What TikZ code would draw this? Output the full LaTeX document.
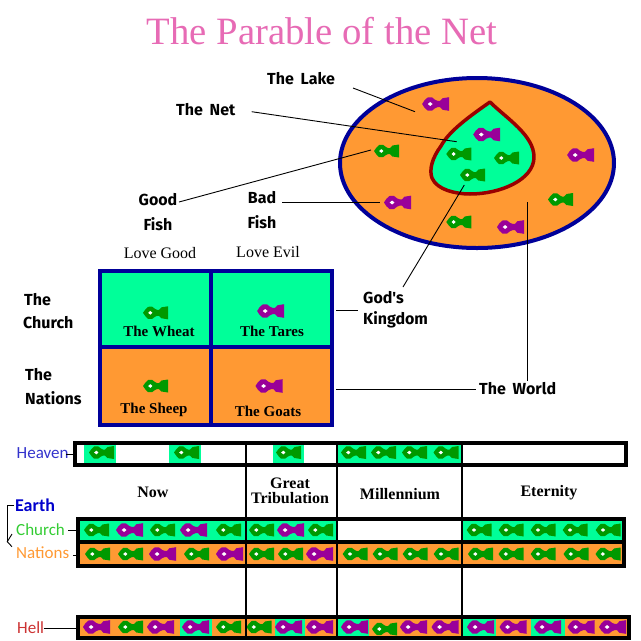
\documentclass[tikz,border=0pt]{standalone}
\usepackage{fontspec}
\setmainfont{Liberation Serif}
\newfontfamily\labfont[WordSpace=1.8]{Fira Sans}
\newfontfamily\thinfont{Carlito}
\definecolor{seagrn}{HTML}{00FF99}
\definecolor{orng}{HTML}{FF9933}
\definecolor{navy}{HTML}{000099}
\definecolor{fishg}{HTML}{009900}
\definecolor{fishp}{HTML}{990099}
\definecolor{netred}{HTML}{990000}
\definecolor{pinkt}{HTML}{E76BB5}
\definecolor{heavenc}{HTML}{3333CC}
\definecolor{earthc}{HTML}{0000CC}
\definecolor{churchc}{HTML}{33CC33}
\definecolor{hellc}{HTML}{CC3333}
\tikzset{
  lab/.style={font=\labfont\bfseries\fontsize{16}{16}\selectfont,inner sep=0pt,text=black},
  goth/.style={font=\bfseries\fontsize{15}{15}\selectfont,inner sep=0pt,text=black},
  period/.style={font=\bfseries\fontsize{16}{16}\selectfont,inner sep=0pt,text=black},
  lov/.style={font=\fontsize{16}{16}\selectfont,inner sep=0pt},
  place/.style={font=\thinfont\fontsize{17}{17}\selectfont,inner sep=0pt,anchor=west},
  conn/.style={draw=black,line width=0.9pt},
  bar/.style={draw=black,line width=4pt},
  pics/gf/.style={code={
    \fill[fishg] (-12.5,0) -- (-10,-3.5) -- (-7.5,-6) -- (-3.5,-6.2) -- (-0.5,-4) -- (1.5,-3) -- (3.5,-3) -- (6,-5.5) -- (12.5,-6.5) -- (12.5,6.5) -- (6,5.5) -- (3.5,3) -- (1.5,3) -- (-0.5,4) -- (-3.5,6.2) -- (-7.5,6) -- (-10,3.5) -- cycle;
    \fill[white] (-7.3,0) -- (-5.2,-1.9) -- (-3.1,0) -- (-5.2,1.9) -- cycle;}},
  pics/pf/.style={code={
    \fill[fishp] (-13.5,0) -- (-11,-3.8) -- (-8,-6.5) -- (-3.5,-6.6) -- (-0.5,-4.2) -- (2,-3.2) -- (4.5,-3.2) -- (7,-5.8) -- (13.5,-6.8) -- (13.5,6.8) -- (7,5.8) -- (4.5,3.2) -- (2,3.2) -- (-0.5,4.2) -- (-3.5,6.6) -- (-8,6.5) -- (-11,3.8) -- cycle;
    \fill[white] (-7.8,0) -- (-5.4,-2) -- (-3,0) -- (-5.4,2) -- cycle;}},
}
\begin{document}
\begin{tikzpicture}[x=1pt,y=-1pt]
\useasboundingbox (0,0) rectangle (641,641);
\node[inner sep=0pt,text=pinkt,font=\fontsize{38.7}{39}\selectfont] (title) at (322,31) {The Parable of the Net};
% lake
\draw[navy,line width=4pt,fill=orng] (477,163) ellipse [x radius=137,y radius=85];
\draw[netred,line width=3.5pt,fill=seagrn,line join=round] (490,102)
  .. controls (470,116) and (449,131) .. (441,146)
  .. controls (432,158) and (429,170) .. (432,178)
  .. controls (437,190) and (456,194) .. (470,194)
  .. controls (500,194) and (534,180) .. (534,157)
  .. controls (534,135) and (506,118) .. (490,102) -- cycle;
\foreach \x/\y in {435.6/104,486.7/134.5,580.6/155,397.5/202.5,510.5/227} \pic at (\x,\y) {pf};
\foreach \x/\y in {458.8/154,506.5/158,472.5/175,386.5/151,560.5/199.5,458.8/222} \pic at (\x,\y) {gf};
% grid
\fill[seagrn] (100,271) rectangle (332,347);
\fill[orng] (100,347) rectangle (332,425);
\draw[navy,line width=3.8pt] (100,271) rectangle (332,425) (211,271) -- (211,425) (100,347) -- (332,347);
\pic at (155.5,312.8) {gf};
\pic at (270.6,311) {pf};
\pic at (155.5,386) {gf};
\pic at (269,386) {pf};
\node[goth] (wheat) at (159,331) {The Wheat};
\node[goth] (tares) at (272,331) {The Tares};
\node[goth] (sheep) at (154,410) {The Sheep};
\node[goth] (goats) at (268,411) {The Goats};
% labels
\node[lab,anchor=west] (lake) at (267,79) {The Lake};
\node[lab,anchor=west] (net) at (176,110) {The Net};
\node[lab] (good1) at (158,200) {Good};
\node[lab] (good2) at (158,224) {Fish};
\node[lab] (bad1) at (262,198) {Bad};
\node[lab] (bad2) at (262,222) {Fish};
\node[lov] (lg) at (160,253) {Love Good};
\node[lov] (le) at (268,252) {Love Evil};
\node[lab,anchor=west] (chA) at (24,300) {The};
\node[lab,anchor=west] (chB) at (23,323) {Church};
\node[lab,anchor=west] (naA) at (25,375) {The};
\node[lab,anchor=west] (naB) at (25,398) {Nations};
\node[lab,anchor=west] (gkA) at (363,298) {God's};
\node[lab,anchor=west] (gkB) at (363,320) {Kingdom};
\node[lab,anchor=west] (world) at (479,389) {The World};
% connector ends
\coordinate (lakeE) at (415,111.7);
\coordinate (lakeS) at (353,88);
\coordinate (netE) at (456.7,141.7);
\coordinate (netS) at (251.7,111.7);
\coordinate (goodE) at (371,150);
\coordinate (goodS) at (179,202);
\coordinate (badE) at (380,202);
\coordinate (badS) at (282,202);
\coordinate (kingE) at (464.3,185);
\coordinate (kingS) at (403,287);
\coordinate (worldT) at (527.5,202);
\coordinate (worldB) at (527.5,381);
\coordinate (gridA) at (336,310);
\coordinate (gridAe) at (358,310);
\coordinate (gridB) at (336,389);
\coordinate (gridBe) at (476,389);
\draw[conn] (lakeS) -- (lakeE);
\draw[conn] (netS) -- (netE);
\draw[conn] (goodS) -- (goodE);
\draw[conn] (badS) -- (badE);
\draw[conn] (kingS) -- (kingE);
\draw[conn] (worldT) -- (worldB);
\draw[conn] (gridA) -- (gridAe);
\draw[conn] (gridB) -- (gridBe);
% timeline backgrounds
\fill[seagrn] (84,445) rectangle (116,463);
\fill[seagrn] (169,445) rectangle (201,463);
\fill[seagrn] (273,445) rectangle (304,463);
\fill[seagrn] (338,445) rectangle (461,463);
\fill[seagrn] (78,519) rectangle (337,542);
\fill[seagrn] (462,519) rectangle (624,542);
\fill[orng] (78,542) rectangle (624,566);
\fill[orng] (78,617) rectangle (629,638);
\fill[seagrn] (180,619) rectangle (212,636);
\fill[seagrn] (275,619) rectangle (305,636);
\fill[seagrn] (338,619) rectangle (369,636);
\fill[seagrn] (463,619) rectangle (496,636);
\fill[seagrn] (531,619) rectangle (565,636);
% fish rows
\foreach \x in {101.5,186.5,288.5,353.5,383.5,414.5,446} \pic at (\x,452.5) {gf};
\foreach \x in {96.5,162.5,228.5,261.5,320.5,479.2,511.2,543.2,575.2,608.2} \pic at (\x,530) {gf};
\foreach \x in {129.5,193.5,290.5} \pic at (\x,530) {pf};
\foreach \x in {97.5,130.5,196.5,261.5,290.5,355.2,385.2,415.2,446.2,480.5,511,543.2,576,608} \pic at (\x,554) {gf};
\foreach \x in {162.5,229.5,319.5} \pic at (\x,554) {pf};
\foreach \x in {96.5,160.5,195.5,288.5,319.5,354.5,413.5,445,480.5,513,547.5,581,612.5} \pic at (\x,627) {pf};
\foreach \x in {130.5,228.5,259} \pic at (\x,627) {gf};
\pic at (384.5,629) {gf};
% timeline frames
\draw[bar] (75,443) rectangle (626,465);
\draw[bar] (78,519) rectangle (624,566);
\draw[bar] (78,542) -- (624,542);
\draw[bar] (78,617) rectangle (629,638);
\fill[white] (338,521) rectangle (461,540);
\draw[black,line width=2pt] (246,441) -- (246,640) (337,441) -- (337,640) (462,441) -- (462,640);
% period labels
\node[period] (now) at (153,492) {Now};
\node[period] (gr) at (290,483) {Great};
\node[period] (tr) at (290,498) {Tribulation};
\node[period] (mil) at (400,494) {Millennium};
\node[period] (ete) at (549,493) {Eternity};
% places
\node[place,text=heavenc] (heaven) at (16.5,453) {Heaven};
\node[place,font=\thinfont\bfseries\fontsize{18}{18}\selectfont,text=earthc] (earth) at (15,505) {Earth};
\node[place,text=churchc] (church) at (16,530) {Church};
\node[place,text=orng] (nations) at (16,553) {Nations};
\node[place,text=hellc] (hell) at (17,628) {Hell};
\coordinate (hvS) at (66,454);
\coordinate (hvE) at (73,454);
\coordinate (chS) at (68,530.7);
\coordinate (chE) at (76,530.7);
\coordinate (naS) at (73,555);
\coordinate (naE) at (76,555);
\coordinate (heS) at (43.5,628);
\coordinate (heE) at (76,628);
\coordinate (brA) at (14,505);
\coordinate (brB) at (7.3,505);
\coordinate (brC) at (7.3,541.7);
\coordinate (brD) at (12,534);
\coordinate (brF) at (12,546.7);
\draw[conn] (hvS) -- (hvE);
\draw[conn] (chS) -- (chE);
\draw[conn] (naS) -- (naE);
\draw[conn] (heS) -- (heE);
\draw[conn] (brA) -- (brB) -- (brC);
\draw[conn] (brD) -- (brC) -- (brF);
\end{tikzpicture}
\end{document}
